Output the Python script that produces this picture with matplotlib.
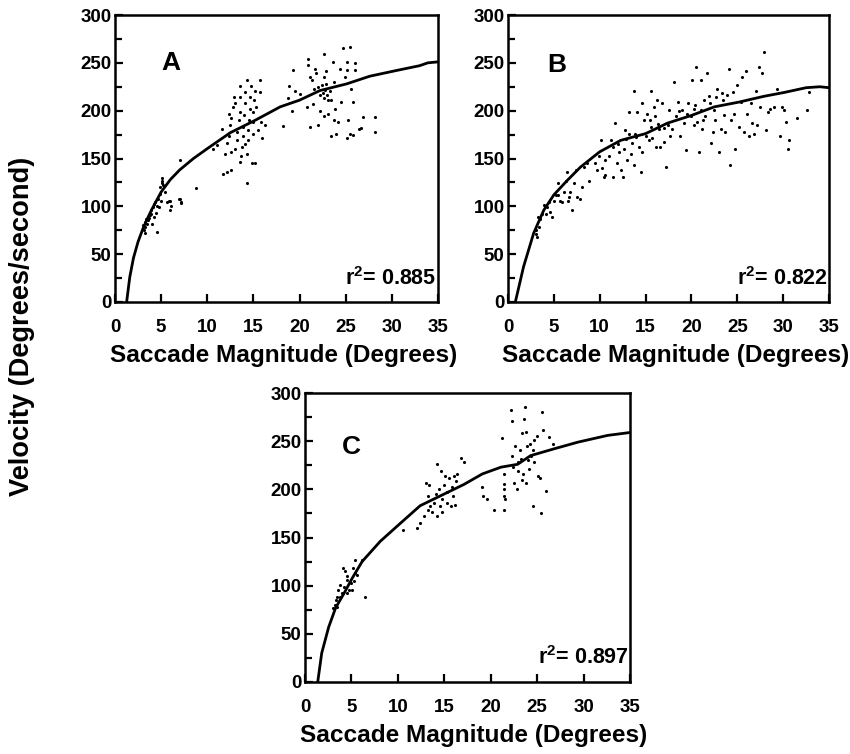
import numpy as np
import matplotlib.pyplot as plt
from matplotlib.ticker import MultipleLocator

plt.rcParams['font.family'] = ['Liberation Sans', 'DejaVu Sans']
plt.rcParams['font.weight'] = 'bold'
plt.rcParams['mathtext.fontset'] = 'custom'
plt.rcParams['mathtext.bf'] = 'Liberation Sans:bold'
plt.rcParams['mathtext.rm'] = 'Liberation Sans:bold'

# ---- panel A ----
a_x = [3.1, 3.2, 3.3, 3.4, 3.6, 3.8, 3.9, 4.0, 4.1, 4.2, 4.3, 4.4, 4.5, 4.7, 4.8, 4.9, 4.9, 5.1,
       5.2, 5.0, 5.4, 5.6, 5.9, 6.0, 7.0, 6.9, 7.2, 8.8, 5.1, 5.1, 6.0, 6.1, 7.0, 7.2, 3.0, 3.3,
       3.5, 3.7, 3.9, 4.2, 4.6,
       10.6, 11.0, 11.6, 11.7, 12.1, 12.6, 11.9, 12.1, 12.3, 12.5, 12.6, 12.8, 12.9, 13.0, 13.2,
       13.2, 13.4, 13.5, 13.5, 13.5, 13.7, 13.8, 13.9, 13.9, 14.0, 14.1, 14.1, 14.3, 14.3, 14.4,
       14.4, 14.5, 14.6, 14.6, 14.7, 14.8, 14.9, 15.0, 15.0, 15.1, 15.2, 15.2, 15.3, 15.5, 15.7,
       15.7, 15.8, 15.9, 16.2, 12.3, 13.0, 12.6, 14.1, 13.5, 14.3,
       18.2, 18.7, 19.3, 18.9, 19.2, 20.0, 19.5, 20.9, 20.9, 21.1, 21.3, 21.5, 21.7, 21.8, 22.0,
       22.2, 22.4, 22.6, 22.7, 22.7, 22.9, 23.1, 23.3, 23.4, 23.6, 23.7, 23.8, 24.0, 24.2, 24.4,
       24.7, 24.9, 25.1, 25.3, 25.1, 25.5, 25.6, 25.8, 25.8, 26.0, 26.0, 26.4, 26.7, 26.9, 28.2,
       28.2, 25.5, 25.1, 22.9, 23.4, 22.0, 22.6, 22.2, 21.1, 21.6, 20.8, 23.1, 24.5, 23.7, 22.5,
       22.8, 23.0]
a_y = [75, 78, 84, 87, 86, 91, 96, 82, 99, 89, 105, 93, 73, 108, 99, 113, 120, 127,
       122, 106, 115, 105, 106, 96, 148, 108, 105, 119, 130, 124, 106, 100, 108, 103, 80, 72,
       82, 88, 92, 102, 100,
       160, 164, 181, 134, 136, 138, 155, 166, 174, 185, 192, 204, 214, 160, 169,
       178, 190, 199, 214, 226, 153, 162, 173, 183, 195, 208, 220, 124, 155, 169,
       180, 190, 202, 214, 226, 145, 176, 188, 199, 211, 221, 145, 204, 180, 220,
       232, 188, 171, 185, 197, 208, 157, 165, 146, 232,
       184, 213, 242, 226, 200, 217, 221, 254, 248, 183, 232, 207, 244, 239, 185,
       216, 227, 235, 259, 194, 241, 211, 221, 173, 251, 230, 202, 176, 188, 244,
       265, 235, 251, 190, 171, 176, 223, 209, 175, 250, 242, 181, 182, 193, 193,
       178, 267, 242, 228, 211, 225, 213, 200, 235, 223, 204, 197, 209, 190, 218,
       222, 216]
a_fit_x = [1.26, 1.6, 2.0, 2.5, 3.0, 3.5, 4.0, 4.5, 5.0, 6.0, 7.0, 8.5, 10.1, 12.5, 15.2,
           17.9, 20.0, 22.2, 25.1, 27.6, 30.5, 33.0, 33.9, 35.0]
a_fit_y = [0, 26, 46, 63, 76, 87, 97, 106, 115, 128, 138, 150, 161, 177, 190,
           204, 211, 221, 228, 236, 242, 247, 250, 251]

# ---- panel B ----
b_x = [3.0, 3.1, 3.2, 3.4, 3.25, 3.5, 3.7, 3.9, 4.1, 4.3, 4.45, 4.6, 4.8, 5.0, 5.2, 5.4, 5.5,
       5.7, 5.9, 6.1, 6.3, 6.4, 6.5, 6.6, 6.8, 7.0, 7.2, 7.4, 7.5, 7.9, 8.1, 8.3, 8.6, 8.8, 9.5,
       9.7, 9.9, 10.1, 10.3, 10.5, 10.6, 11.0, 10.6, 11.2, 11.4, 11.5, 11.7, 11.9, 12.1, 12.3,
       12.5, 12.6, 12.8, 13.0, 13.2, 13.2, 13.4, 13.5, 13.7, 13.7, 13.9, 14.1, 14.3, 14.5, 14.6,
       14.6, 14.8, 15.0, 15.2, 15.4, 15.6, 15.6, 15.7, 15.9, 16.1, 16.3, 16.5, 16.6, 16.8, 17.0,
       17.2, 17.4, 17.5, 17.7, 17.9, 18.1, 18.3, 18.5, 18.8, 19.0, 19.2, 19.4, 19.6, 19.9, 20.1,
       20.3, 20.3, 20.5, 20.6, 20.8, 21.0, 21.0, 21.2, 21.4, 21.5, 21.7, 21.9, 22.1, 22.3, 22.5,
       22.6, 22.8, 23.0, 23.2, 23.4, 23.5, 23.7, 23.9, 24.1, 24.2, 24.3, 24.5, 24.6, 24.8, 25.0,
       25.2, 25.4, 25.5, 25.7, 25.9, 26.1, 26.3, 26.5, 26.6, 26.8, 27.0, 27.2, 27.4, 27.5, 27.7,
       27.9, 28.1, 28.3, 28.6, 29.0, 29.3, 29.7, 29.9, 30.1, 30.3, 30.5, 30.6, 31.5, 32.6, 32.8,
       15.5, 16.0, 16.4, 17.0, 18.6, 19.5, 20.4, 21.3, 22.0, 22.7, 23.3, 12.0, 12.9, 14.0]
b_y = [71, 75, 68, 78, 89, 87, 92, 101, 92, 99, 105, 94, 89, 106, 112, 124, 112,
       106, 105, 115, 126, 136, 106, 110, 115, 96, 124, 138, 110, 108, 120, 141, 145, 126, 145,
       138, 153, 169, 140, 131, 133, 153, 148, 169, 131, 162, 187, 145, 157, 138,
       131, 160, 180, 148, 199, 176, 155, 166, 221, 143, 176, 199, 162, 136, 208,
       157, 190, 173, 197, 169, 221, 183, 171, 204, 162, 211, 181, 162, 208, 167,
       141, 185, 201, 173, 181, 230, 194, 209, 174, 201, 187, 159, 208, 194, 232,
       185, 202, 246, 188, 157, 232, 201, 181, 211, 194, 239, 215, 166, 178, 201,
       190, 223, 157, 181, 211, 195, 178, 216, 244, 143, 190, 220, 197, 160, 227,
       183, 209, 235, 178, 241, 197, 174, 208, 187, 176, 221, 185, 246, 204, 239,
       261, 180, 199, 202, 204, 223, 173, 204, 201, 188, 160, 169, 192, 201, 220,
       190, 194, 186, 182, 200, 196, 206, 190, 208, 214, 218, 165, 170, 172]
b_fit_x = [0.8, 1.7, 2.8, 3.9, 5.0, 6.45, 7.9, 10.0, 12.3, 15.0, 17.4, 20.0, 22.5, 25.2,
           27.9, 30.1, 32.5, 34.0, 35.0]
b_fit_y = [0, 37, 72, 96, 112, 127, 141, 157, 169, 176, 187, 195, 204, 209,
           215, 219, 224, 225, 224]

# ---- panel C ----
c_x = [3.0, 3.2, 3.3, 3.45, 3.6, 3.8, 4.0, 4.2, 4.1, 4.35, 4.5, 4.7, 4.5, 4.9, 5.1, 5.25, 5.2,
       5.4, 5.6, 5.4, 6.15, 6.5, 3.45, 3.8, 4.5,
       10.6, 12.1, 12.4, 12.8, 13.2, 13.0, 13.2, 13.3, 13.5, 13.7, 13.9, 14.1, 14.2, 14.2, 14.4,
       14.5, 14.6, 14.8, 14.8, 14.96, 15.1, 15.3, 15.3, 15.5, 15.7, 15.8, 15.9, 16.0, 16.2, 16.3,
       16.4, 16.8, 17.1,
       19.1, 19.2, 19.6, 20.4, 21.2, 21.4, 21.4, 21.4, 21.4, 21.4, 21.5, 22.2, 22.3, 22.3, 22.4,
       22.5, 22.6, 22.8, 22.9, 23.1, 23.3, 23.4, 23.5, 23.6, 23.7, 23.8, 23.8, 23.9, 24.0, 24.1,
       24.2, 24.5, 24.6, 24.7, 25.0, 25.1, 25.3, 25.4, 25.5, 25.6, 25.9, 26.3, 26.7, 24.7, 24.3,
       22.9, 23.4]
c_y = [77, 80, 85, 88, 96, 101, 92, 99, 118, 115, 92, 96, 106, 103, 96, 105, 118,
       113, 111, 127, 127, 88, 78, 88, 110,
       158, 160, 165, 172, 179, 207, 193, 204, 183, 176, 186, 195, 226, 172, 200,
       183, 219, 190, 176, 204, 214, 197, 186, 212, 183, 202, 193, 214, 184, 209,
       216, 233, 228,
       202, 193, 190, 179, 253, 216, 206, 200, 193, 179, 190, 282, 271, 235, 223,
       207, 245, 200, 228, 241, 232, 258, 216, 273, 285, 260, 207, 245, 230, 221,
       247, 183, 241, 251, 255, 214, 212, 175, 280, 262, 198, 254, 247, 228, 235,
       219, 210]
c_fit_x = [1.37, 1.8, 2.55, 3.3, 4.2, 5.1, 6.15, 8.1, 10.3, 12.4, 14.96, 17.1, 19.1, 21.1,
           22.9, 24.3, 26.8, 29.4, 32.6, 35.0]
c_fit_y = [0, 30, 57, 77, 92, 108, 125, 146, 165, 183, 195, 205, 216, 223,
           226, 235, 242, 249, 256, 259]

# letter, r2, data, axes box in pixels (left, top, right, bottom), letter position, label centre x
panels = [
    ('A', '0.885', a_x, a_y, a_fit_x, a_fit_y, (115, 15, 438, 302), (6.1, 250), 284),
    ('B', '0.822', b_x, b_y, b_fit_x, b_fit_y, (508, 15, 829, 302), (5.3, 248), 676),
    ('C', '0.897', c_x, c_y, c_fit_x, c_fit_y, (305, 393, 630, 682), (5.0, 244), 474),
]

W, H = 850, 754
fig = plt.figure(figsize=(8.5, 7.54), dpi=100)

for letter, r2, xs, ys, fx, fy, (l, t, r, b), (lx, ly), lab_cx in panels:
    ax = fig.add_axes([l / W, 1 - b / H, (r - l) / W, (b - t) / H])
    ax.scatter(xs, ys, s=5, color='black', linewidths=0)
    ax.plot(fx, fy, color='black', lw=2)
    ax.set_xlim(0, 35)
    ax.set_ylim(0, 300)
    ax.xaxis.set_major_locator(MultipleLocator(5))
    ax.yaxis.set_major_locator(MultipleLocator(50))
    ax.yaxis.set_minor_locator(MultipleLocator(25))
    ax.tick_params(direction='in', width=1.6, length=6, labelsize=13.5)
    ax.tick_params(axis='x', pad=12)
    ax.tick_params(axis='y', pad=2.5)
    ax.tick_params(which='minor', direction='in', width=1.6, length=5)
    for sp in ax.spines.values():
        sp.set_linewidth(1.8)
    for lab in ax.get_xticklabels() + ax.get_yticklabels():
        lab.set_fontweight('bold')
    ax.text(lx, ly, letter, fontsize=19, fontweight='bold', ha='center', va='center')
    ax.text(34.85, 25, r'r$^{\mathbf{2}}$= ' + r2, fontsize=15.5, fontweight='bold',
            ha='right', va='center')
    ax.set_xlabel('Saccade Magnitude (Degrees)', fontsize=17.6, fontweight='bold', labelpad=6)
    ax.xaxis.label.set_x((lab_cx - l) / (r - l))

fig.text(22.5 / W, 1 - 326 / H, 'Velocity (Degrees/second)', rotation=90, fontsize=19.6,
         fontweight='bold', ha='center', va='center')

fig.savefig('out.png', dpi=100)
